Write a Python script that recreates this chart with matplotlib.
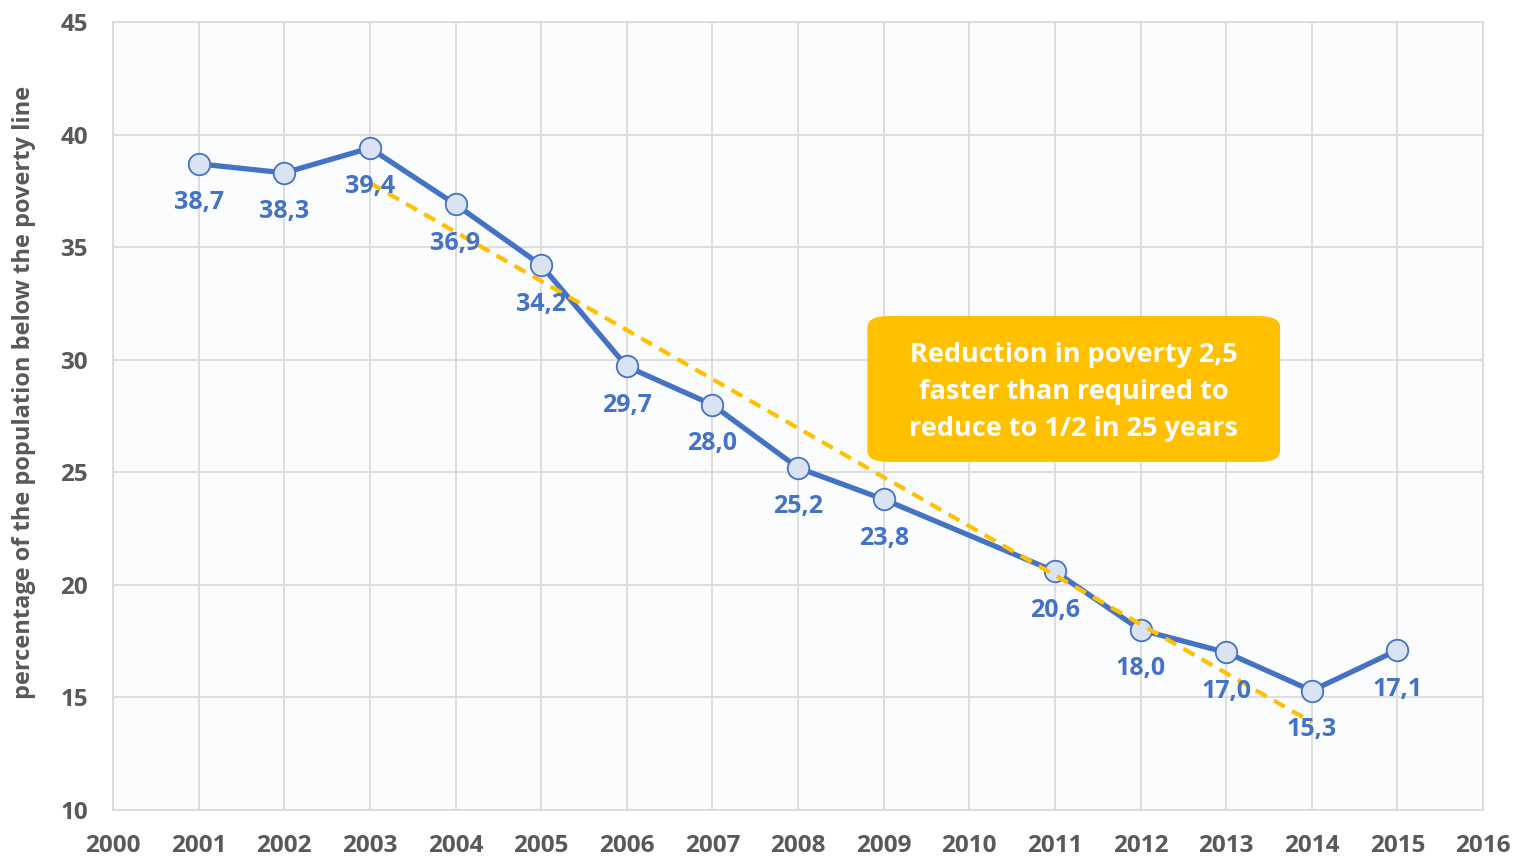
import matplotlib.pyplot as plt
from matplotlib.patches import FancyBboxPatch

plt.rcParams['font.family'] = ['Open Sans', 'DejaVu Sans']

years = [2001, 2002, 2003, 2004, 2005, 2006, 2007, 2008, 2009, 2011, 2012, 2013, 2014, 2015]
poverty = [38.7, 38.3, 39.4, 36.9, 34.2, 29.7, 28.0, 25.2, 23.8, 20.6, 18.0, 17.0, 15.3, 17.1]
trend_years = [2003, 2014]
trend_values = [37.85, 13.9]

blue = '#4472C4'
gold = '#FFC000'
grey = '#595959'

fig = plt.figure(figsize=(15.15, 8.59), dpi=100)
ax = fig.add_axes([0.0746, 0.057, 0.9043, 0.9174])
ax.set_facecolor('#FBFCFE')

ax.plot(years, poverty, color=blue, linewidth=3.8, marker='o', markersize=15.5,
        markerfacecolor='#DAE3F3', markeredgecolor=blue, markeredgewidth=1.3, zorder=3)
ax.plot(trend_years, trend_values, color=gold, linewidth=3, linestyle=(0, (3, 2)), zorder=4)

for x, y in zip(years, poverty):
    ax.annotate(f'{y:.1f}'.replace('.', ','), (x, y), xytext=(0, -28), textcoords='offset points',
                ha='center', va='center', color=blue, fontsize=18, fontweight='bold', zorder=5)

box = FancyBboxPatch((2008.81, 25.46), 4.82, 6.48, boxstyle='round,pad=0,rounding_size=0.25',
                     mutation_aspect=2.0, facecolor=gold, edgecolor='none', zorder=6)
ax.add_patch(box)
ax.text(2011.22, 28.55, 'Reduction in poverty 2,5\nfaster than required to\nreduce to 1/2 in 25 years',
        ha='center', va='center', color='white', fontsize=19.5, fontweight='bold',
        linespacing=1.55, zorder=7)

ax.set_xlim(2000, 2016)
ax.set_ylim(10, 45)
ax.set_xticks(range(2000, 2017))
ax.set_yticks(range(10, 46, 5))
ax.grid(True, color='#D9D9D9', linewidth=1.2)
ax.set_axisbelow(True)
for s in ax.spines.values():
    s.set_color('#D9D9D9')
    s.set_linewidth(1.2)
ax.tick_params(length=0, labelsize=17.5, labelcolor=grey)
ax.tick_params(axis='x', pad=17)
ax.tick_params(axis='y', pad=18)
for lbl in ax.get_xticklabels() + ax.get_yticklabels():
    lbl.set_fontweight('bold')
ax.set_ylabel('percentage of the population below the poverty line', fontsize=17,
              fontweight='bold', color=grey)
ax.yaxis.set_label_coords(-0.056, 0.53)

fig.savefig('out.png', dpi=100)
